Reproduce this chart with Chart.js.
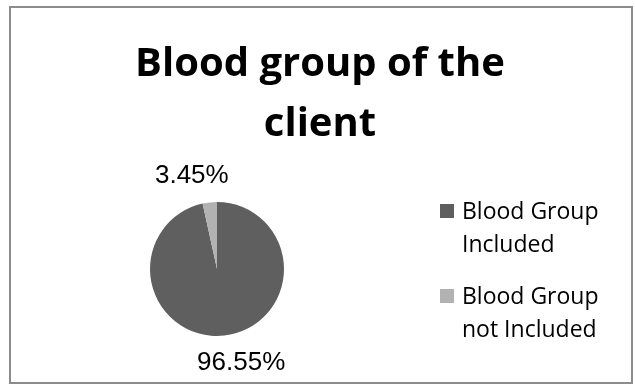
<!DOCTYPE html>
<html>
<head>
<meta charset="utf-8">
<script src="https://cdn.jsdelivr.net/npm/chart.js@4/dist/chart.umd.min.js"></script>
<style>
  html, body { margin: 0; padding: 0; background: #fff; }
  #wrap { width: 635px; height: 385px; }
</style>
</head>
<body>
<div id="wrap"><canvas id="bloodChart"></canvas></div>
<script>
var categories = ['Blood Group Included', 'Blood Group not Included'];
var legendLines = [['Blood Group', 'Included'], ['Blood Group', 'not Included']];
var shares = [96.55, 3.45];
var sliceColors = ['#5f5f5f', '#b2b2b2'];
var titleLines = ['Blood group of the', 'client'];

// frame, title, legend and outside labels drawn straight on the canvas
var decorations = {
    id: 'decorations',
    afterDraw: function(chart) {
        var ctx = chart.ctx;
        ctx.save();

        ctx.strokeStyle = '#8c8c8c';
        ctx.lineWidth = 2;
        ctx.strokeRect(10, 7, 622, 376);

        ctx.fillStyle = '#000';
        ctx.textAlign = 'center';
        ctx.textBaseline = 'alphabetic';
        ctx.font = 'bold 40px "Open Sans"';
        titleLines.forEach(function(line, i) {
            ctx.fillText(line, 320, 76 + i * 60);
        });

        // percentage labels outside each slice
        var meta = chart.getDatasetMeta(0);
        ctx.textBaseline = 'middle';
        ctx.font = '26px "Liberation Sans"';
        meta.data.forEach(function(arc, i) {
            var p = arc.getProps(['x', 'y', 'startAngle', 'endAngle', 'outerRadius'], true);
            var mid = (p.startAngle + p.endAngle) / 2;
            var c = Math.cos(mid), s = Math.sin(mid);
            var d = p.outerRadius + 27;
            var x = p.x + c * d + (c < 0 ? -15 : 14);
            var y = p.y + s * d;
            ctx.fillText(shares[i].toFixed(2) + '%', x, y);
        });

        // legend on the right
        ctx.textAlign = 'left';
        ctx.textBaseline = 'alphabetic';
        ctx.font = '23px "Open Sans"';
        categories.forEach(function(name, i) {
            var base = 219 + i * 85;
            ctx.fillStyle = sliceColors[i];
            ctx.fillRect(440, base - 15, 14, 14);
            ctx.fillStyle = '#000';
            legendLines[i].forEach(function(line, j) {
                ctx.fillText(line, 462, base + j * 33);
            });
        });

        ctx.restore();
    }
};

var ctx = document.getElementById('bloodChart').getContext('2d');
var myChart = new Chart(ctx, {
    type: 'pie',
    data: {
        labels: categories,
        datasets: [{
            data: shares,
            backgroundColor: sliceColors,
            borderWidth: 0
        }]
    },
    options: {
        responsive: true,
        maintainAspectRatio: false,
        animation: false,
        layout: {
            padding: { left: 150, right: 351, top: 202, bottom: 49 }
        },
        plugins: {
            legend: { display: false },
            title: { display: false },
            tooltip: { enabled: false }
        }
    },
    plugins: [decorations]
});
</script>
</body>
</html>
